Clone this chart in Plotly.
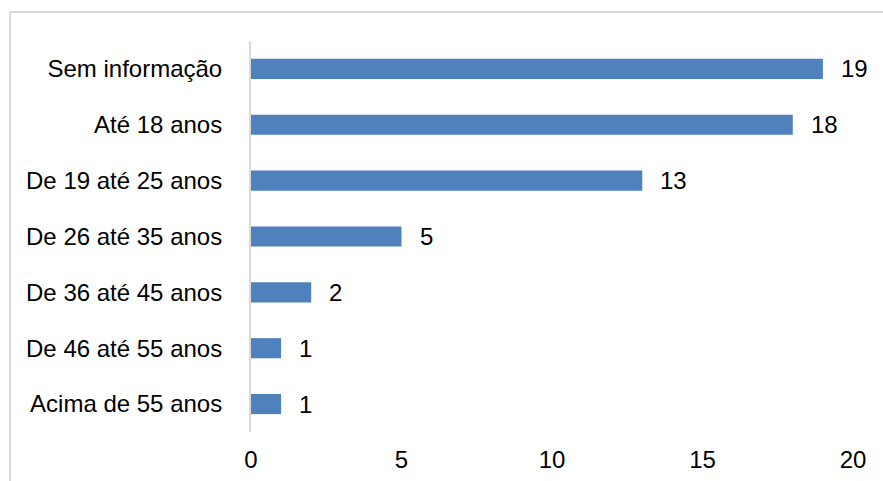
import plotly.graph_objects as go

categories = ["Sem informação", "Até 18 anos", "De 19 até 25 anos", "De 26 até 35 anos",
              "De 36 até 45 anos", "De 46 até 55 anos", "Acima de 55 anos"]
values = [19, 18, 13, 5, 2, 1, 1]
x_ticks = [0, 5, 10, 15, 20]

FONT = "Liberation Sans, Arial, sans-serif"
FS = 24
fig = go.Figure()
fig.add_trace(go.Bar(
    x=values, y=categories, orientation="h",
    marker=dict(color="#4f81bd", line=dict(width=0)),
    width=0.36, hoverinfo="skip",
))
for c, v in zip(categories, values):
    fig.add_annotation(x=v, y=c, text=str(v), showarrow=False, xanchor="left",
                       xshift=16, font=dict(family=FONT, size=FS, color="#000000"))

W, H = 883, 481
L, R, T, B = 251, 30, 41, 49
pw, ph = W - L - R, H - T - B
def px(x):
    return (x - L) / pw
def py(y):
    return 1 - (y - T) / ph

# chart border (partly cropped)
fig.add_shape(type="line", xref="paper", yref="paper", x0=px(10), x1=px(900), y0=py(12), y1=py(12),
              line=dict(color="#d9d9d9", width=2))
fig.add_shape(type="line", xref="paper", yref="paper", x0=px(10), x1=px(10), y0=py(12), y1=py(500),
              line=dict(color="#d9d9d9", width=2))

fig.update_layout(
    width=W, height=H,
    margin=dict(l=L, r=R, t=T, b=B, pad=0, autoexpand=False),
    paper_bgcolor="white", plot_bgcolor="white",
    showlegend=False,
    font=dict(family=FONT, size=FS, color="#000000"),
    xaxis=dict(range=[0, 20], tickvals=x_ticks, showgrid=False, zeroline=False,
               showline=False, ticks="", ticklabelstandoff=11, fixedrange=True,
               automargin=False),
    yaxis=dict(autorange=False, range=[6.5, -0.5], showgrid=False, zeroline=False,
               showline=True, linecolor="#d9d9d9", linewidth=2, ticks="",
               ticklabelstandoff=22, fixedrange=True, automargin=False),
)
fig.write_html("out.html")
